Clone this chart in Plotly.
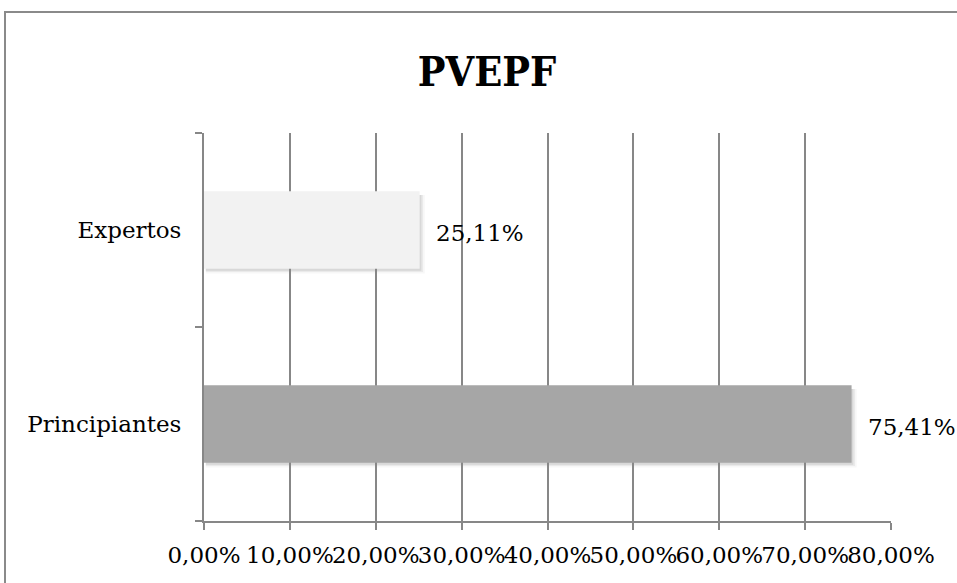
import plotly.graph_objects as go

# Chart data
categories = ["Principiantes", "Expertos"]
values = [0.7541, 0.2511]
bar_colors = ["#A6A6A6", "#F2F2F2"]
x_ticks = [0, 0.1, 0.2, 0.3, 0.4, 0.5, 0.6, 0.7, 0.8]
title_text = "PVEPF"

W, H = 957, 583
L, R, T, B = 204, 66, 133, 62
pw, ph = W - L - R, H - T - B

serif = "DejaVu Serif, serif"
serif_title = "DejaVu Serif Condensed, DejaVu Serif, serif"
grid_col = "#878787"
fs = 23

fig = go.Figure()

fig.add_trace(go.Bar(
    y=categories,
    x=values,
    orientation="h",
    marker=dict(color=bar_colors, line=dict(width=0)),
    width=0.4,
    hoverinfo="skip",
))

# value labels to the right of each bar
annotations = []
for cat, v in zip(categories, values):
    annotations.append(dict(
        x=v, y=cat, xref="x", yref="y",
        text=f"{v*100:.2f}%".replace(".", ","),
        showarrow=False, xanchor="left", yanchor="middle",
        xshift=14, yshift=-3,
        font=dict(family=serif, size=fs, color="#000000"),
    ))

# soft drop shadows under the bars
shapes = []
for i, v in enumerate(values):
    for k, a in enumerate([0.08, 0.05, 0.03]):
        d = 0.002 * (k + 1)
        shapes.append(dict(
            type="rect", xref="x", yref="y", layer="below",
            x0=0.002, x1=v + d,
            y0=i - 0.2 - 0.01 - 0.007 * k, y1=i + 0.2 - 0.02,
            line=dict(width=0), fillcolor=f"rgba(0,0,0,{a})",
        ))

# outer chart frame
shapes.append(dict(
    type="rect", xref="paper", yref="paper",
    x0=(5 - L) / pw, x1=(W + 10 - L) / pw,
    y0=(H - B - (H + 10)) / ph, y1=(H - B - 12) / ph,
    line=dict(color="#8A8A8A", width=2), fillcolor="rgba(0,0,0,0)",
))

fig.update_layout(
    width=W, height=H,
    margin=dict(l=L, r=R, t=T, b=B),
    paper_bgcolor="white", plot_bgcolor="white",
    separators=", ",
    showlegend=False,
    bargap=0.6,
    shapes=shapes,
    annotations=annotations,
    title=dict(
        text=f"<b>{title_text}</b>",
        x=487 / W, xanchor="center",
        y=1 - 72 / H, yanchor="middle",
        font=dict(family=serif_title, size=41, color="#000000"),
    ),
    font=dict(family=serif, size=fs, color="#000000"),
)

fig.update_xaxes(
    range=[0, 0.8],
    tickvals=x_ticks,
    tickformat=".2%",
    tickangle=0,
    showgrid=True, gridcolor=grid_col, gridwidth=2,
    zeroline=False,
    showline=True, linecolor=grid_col, linewidth=2,
    ticks="outside", ticklen=7, tickwidth=2, tickcolor=grid_col,
    tickfont=dict(family=serif, size=fs, color="#000000"),
    ticklabelstandoff=5,
    fixedrange=True,
)
fig.update_yaxes(
    showgrid=False,
    showline=True, linecolor=grid_col, linewidth=2,
    ticks="outside", tickson="boundaries", ticklen=7, tickwidth=2, tickcolor=grid_col,
    tickfont=dict(family=serif, size=fs, color="#000000"),
    ticklabelstandoff=16,
    fixedrange=True,
)

fig.write_html("out.html")
